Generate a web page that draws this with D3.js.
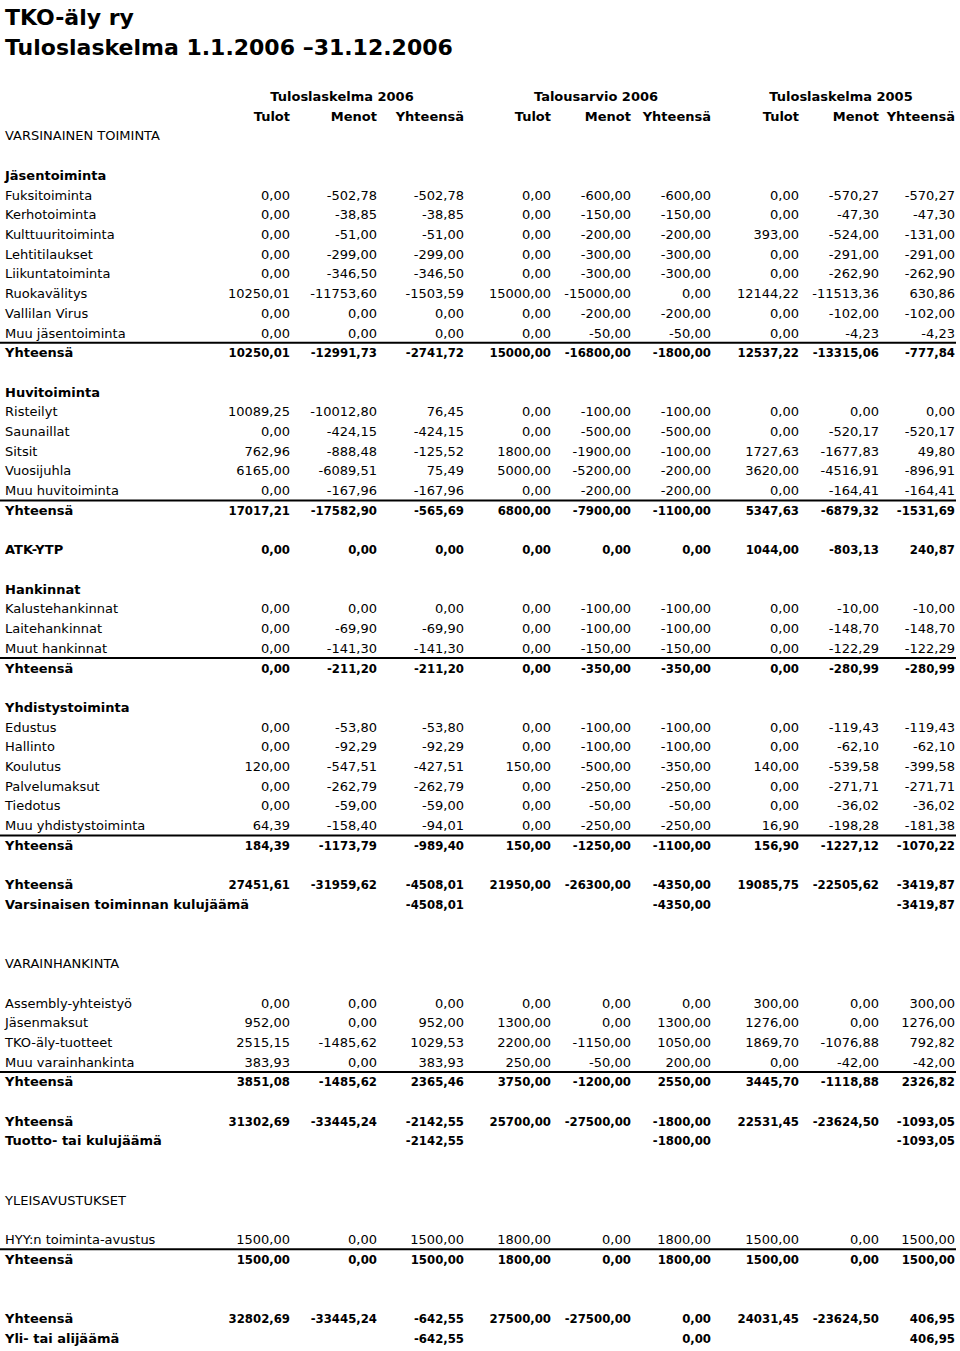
<!DOCTYPE html>
<html>
<head>
<meta charset="utf-8">
<title>TKO-äly ry Tuloslaskelma 2006</title>
<script src="https://d3js.org/d3.v7.min.js"></script>
<style>
  body { margin: 0; background: #fff; }
  text { font-family: "DejaVu Sans", sans-serif; font-size: 13px; fill: #000; }
  .bold { font-weight: bold; }
  .num.bold { font-family: "DejaVu Sans Condensed", "DejaVu Sans", sans-serif; font-stretch: condensed; }
  .title { font-size: 22px; font-weight: bold; }
</style>
</head>
<body>
<svg width="960" height="1351"></svg>
<script>
// column headers
var groups = ["Tuloslaskelma 2006", "Talousarvio 2006", "Tuloslaskelma 2005"];
var subHeaders = ["Tulot", "Menot", "Yhteensä"];

// Jäsentoiminta
var jasenLabels = ["Fuksitoiminta", "Kerhotoiminta", "Kulttuuritoiminta", "Lehtitilaukset",
  "Liikuntatoiminta", "Ruokavälitys", "Vallilan Virus", "Muu jäsentoiminta"];
var jasenValues = [
  [0, -502.78, -502.78, 0, -600, -600, 0, -570.27, -570.27],
  [0, -38.85, -38.85, 0, -150, -150, 0, -47.30, -47.30],
  [0, -51, -51, 0, -200, -200, 393, -524, -131],
  [0, -299, -299, 0, -300, -300, 0, -291, -291],
  [0, -346.50, -346.50, 0, -300, -300, 0, -262.90, -262.90],
  [10250.01, -11753.60, -1503.59, 15000, -15000, 0, 12144.22, -11513.36, 630.86],
  [0, 0, 0, 0, -200, -200, 0, -102, -102],
  [0, 0, 0, 0, -50, -50, 0, -4.23, -4.23]
];
var jasenTotal = [10250.01, -12991.73, -2741.72, 15000, -16800, -1800, 12537.22, -13315.06, -777.84];

// Huvitoiminta
var huviLabels = ["Risteilyt", "Saunaillat", "Sitsit", "Vuosijuhla", "Muu huvitoiminta"];
var huviValues = [
  [10089.25, -10012.80, 76.45, 0, -100, -100, 0, 0, 0],
  [0, -424.15, -424.15, 0, -500, -500, 0, -520.17, -520.17],
  [762.96, -888.48, -125.52, 1800, -1900, -100, 1727.63, -1677.83, 49.80],
  [6165, -6089.51, 75.49, 5000, -5200, -200, 3620, -4516.91, -896.91],
  [0, -167.96, -167.96, 0, -200, -200, 0, -164.41, -164.41]
];
var huviTotal = [17017.21, -17582.90, -565.69, 6800, -7900, -1100, 5347.63, -6879.32, -1531.69];

// ATK-YTP
var atkValues = [0, 0, 0, 0, 0, 0, 1044, -803.13, 240.87];

// Hankinnat
var hankLabels = ["Kalustehankinnat", "Laitehankinnat", "Muut hankinnat"];
var hankValues = [
  [0, 0, 0, 0, -100, -100, 0, -10, -10],
  [0, -69.90, -69.90, 0, -100, -100, 0, -148.70, -148.70],
  [0, -141.30, -141.30, 0, -150, -150, 0, -122.29, -122.29]
];
var hankTotal = [0, -211.20, -211.20, 0, -350, -350, 0, -280.99, -280.99];

// Yhdistystoiminta
var yhdLabels = ["Edustus", "Hallinto", "Koulutus", "Palvelumaksut", "Tiedotus", "Muu yhdistystoiminta"];
var yhdValues = [
  [0, -53.80, -53.80, 0, -100, -100, 0, -119.43, -119.43],
  [0, -92.29, -92.29, 0, -100, -100, 0, -62.10, -62.10],
  [120, -547.51, -427.51, 150, -500, -350, 140, -539.58, -399.58],
  [0, -262.79, -262.79, 0, -250, -250, 0, -271.71, -271.71],
  [0, -59, -59, 0, -50, -50, 0, -36.02, -36.02],
  [64.39, -158.40, -94.01, 0, -250, -250, 16.90, -198.28, -181.38]
];
var yhdTotal = [184.39, -1173.79, -989.40, 150, -1250, -1100, 156.90, -1227.12, -1070.22];

var varsinainenTotal = [27451.61, -31959.62, -4508.01, 21950, -26300, -4350, 19085.75, -22505.62, -3419.87];
var kulujaama = [null, null, -4508.01, null, null, -4350, null, null, -3419.87];

// Varainhankinta
var varLabels = ["Assembly-yhteistyö", "Jäsenmaksut", "TKO-äly-tuotteet", "Muu varainhankinta"];
var varValues = [
  [0, 0, 0, 0, 0, 0, 300, 0, 300],
  [952, 0, 952, 1300, 0, 1300, 1276, 0, 1276],
  [2515.15, -1485.62, 1029.53, 2200, -1150, 1050, 1869.70, -1076.88, 792.82],
  [383.93, 0, 383.93, 250, -50, 200, 0, -42, -42]
];
var varTotal = [3851.08, -1485.62, 2365.46, 3750, -1200, 2550, 3445.70, -1118.88, 2326.82];

var tuottoTotal = [31302.69, -33445.24, -2142.55, 25700, -27500, -1800, 22531.45, -23624.50, -1093.05];
var tuottoJaama = [null, null, -2142.55, null, null, -1800, null, null, -1093.05];

// Yleisavustukset
var avustusLabels = ["HYY:n toiminta-avustus"];
var avustusValues = [[1500, 0, 1500, 1800, 0, 1800, 1500, 0, 1500]];
var avustusTotal = [1500, 0, 1500, 1800, 0, 1800, 1500, 0, 1500];

var finalTotal = [32802.69, -33445.24, -642.55, 27500, -27500, 0, 24031.45, -23624.50, 406.95];
var ylijaama = [null, null, -642.55, null, null, 0, null, null, 406.95];

// ---- layout ----
var svg = d3.select("svg");

var y = d3.scaleLinear().domain([0, 58]).range([195, 1338]);
var colX = d3.scaleOrdinal().domain(d3.range(9))
  .range([290, 377, 464, 551, 631, 711, 799, 879, 955]);
var groupX = d3.scaleOrdinal().domain(d3.range(3)).range([342, 596, 841]);

function fmt(v) { return v == null ? "" : v.toFixed(2).replace(".", ","); }

var rows = [];   // {row, label, values, bold}
var lines = [];  // row index just above which a rule is drawn

function heading(row, label, bold) { rows.push({ row: row, label: label, values: null, bold: bold }); }
function block(start, labels, values, total) {
  labels.forEach(function(l, i) { rows.push({ row: start + i, label: l, values: values[i], bold: false }); });
  var tr = start + labels.length;
  lines.push(tr);
  rows.push({ row: tr, label: "Yhteensä", values: total, bold: true });
}

heading(-3, "VARSINAINEN TOIMINTA", false);
heading(-1, "Jäsentoiminta", true);
block(0, jasenLabels, jasenValues, jasenTotal);
heading(10, "Huvitoiminta", true);
block(11, huviLabels, huviValues, huviTotal);
rows.push({ row: 18, label: "ATK-YTP", values: atkValues, bold: true });
heading(20, "Hankinnat", true);
block(21, hankLabels, hankValues, hankTotal);
heading(26, "Yhdistystoiminta", true);
block(27, yhdLabels, yhdValues, yhdTotal);
rows.push({ row: 35, label: "Yhteensä", values: varsinainenTotal, bold: true });
rows.push({ row: 36, label: "Varsinaisen toiminnan kulujäämä", values: kulujaama, bold: true });
heading(39, "VARAINHANKINTA", false);
block(41, varLabels, varValues, varTotal);
rows.push({ row: 47, label: "Yhteensä", values: tuottoTotal, bold: true });
rows.push({ row: 48, label: "Tuotto- tai kulujäämä", values: tuottoJaama, bold: true });
heading(51, "YLEISAVUSTUKSET", false);
block(53, avustusLabels, avustusValues, avustusTotal);
rows.push({ row: 57, label: "Yhteensä", values: finalTotal, bold: true });
rows.push({ row: 58, label: "Yli- tai alijäämä", values: ylijaama, bold: true });

// title
svg.append("text").attr("class", "title").attr("x", 5).attr("y", 25).text("TKO-äly ry");
svg.append("text").attr("class", "title").attr("x", 5).attr("y", 55).text("Tuloslaskelma 1.1.2006 –31.12.2006");

// column headers
svg.selectAll(".group").data(groups).enter().append("text")
  .attr("class", "group bold")
  .attr("x", function(d, i) { return groupX(i); })
  .attr("y", y(-5)).attr("dy", "0.35em")
  .attr("text-anchor", "middle")
  .text(function(d) { return d; });

svg.selectAll(".sub").data(d3.range(9)).enter().append("text")
  .attr("class", "sub bold")
  .attr("x", function(i) { return colX(i); })
  .attr("y", y(-4)).attr("dy", "0.35em")
  .attr("text-anchor", "end")
  .text(function(i) { return subHeaders[i % 3]; });

// rules
svg.selectAll(".rule").data(lines).enter().append("line")
  .attr("x1", 0).attr("x2", 956)
  .attr("y1", function(r) { return (y(r) + y(r - 1)) / 2; })
  .attr("y2", function(r) { return (y(r) + y(r - 1)) / 2; })
  .attr("stroke", "#000").attr("stroke-width", 2);

// rows
var g = svg.selectAll(".row").data(rows).enter().append("g")
  .attr("class", "row")
  .attr("transform", function(d) { return "translate(0," + y(d.row) + ")"; });

g.append("text")
  .attr("class", function(d) { return d.bold ? "bold" : null; })
  .attr("x", 5).attr("dy", "0.35em")
  .text(function(d) { return d.label; });

g.each(function(d) {
  if (!d.values) return;
  d3.select(this).selectAll(".num").data(d.values).enter().append("text")
    .attr("class", d.bold ? "num bold" : "num")
    .attr("x", function(v, i) { return colX(i); })
    .attr("dy", "0.35em")
    .attr("text-anchor", "end")
    .text(fmt);
});
</script>
</body>
</html>
